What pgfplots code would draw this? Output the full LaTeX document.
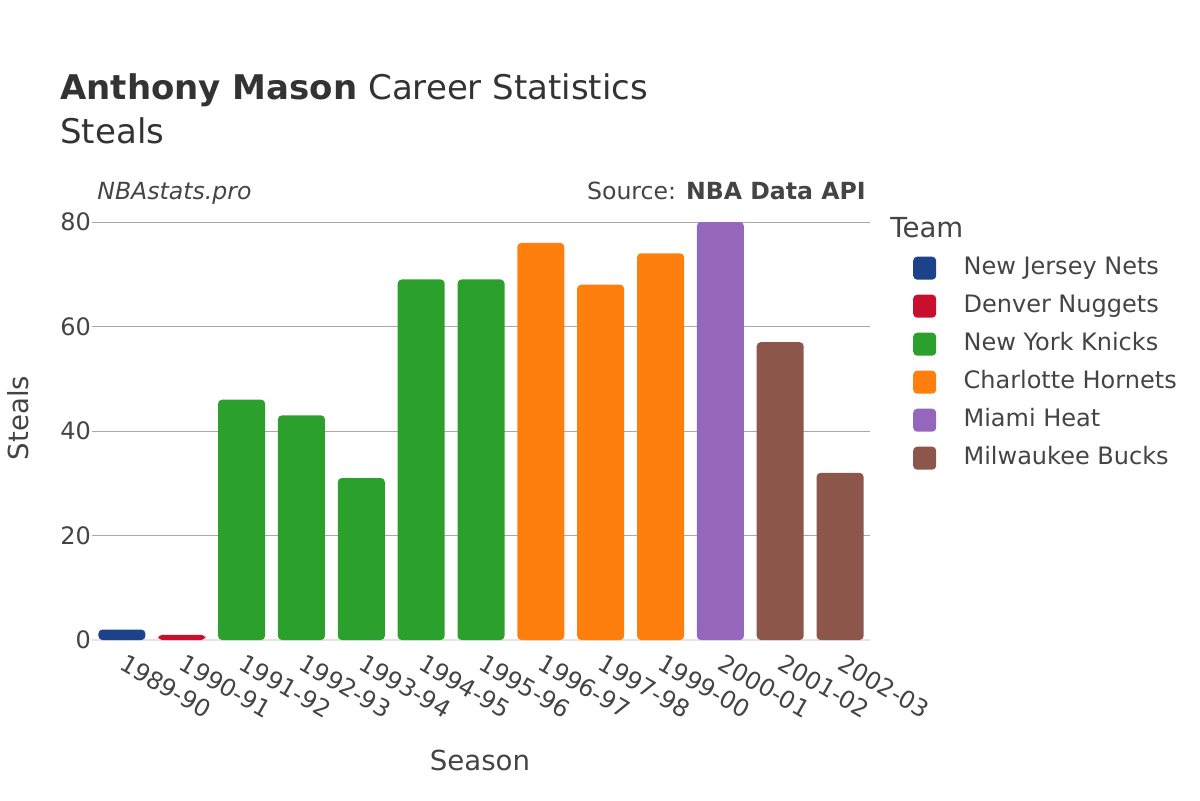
\documentclass[border=0pt]{standalone}
\usepackage{fontspec}
\setmainfont{DejaVu Sans}
\usepackage{pgfplots}
\pgfplotsset{compat=1.18}
\definecolor{txt}{HTML}{444444}
\definecolor{ttl}{HTML}{333333}
\definecolor{gridc}{HTML}{A8A8A8}
\definecolor{zeroc}{HTML}{E4E4E4}
\definecolor{nets}{HTML}{1D428A}
\definecolor{nuggets}{HTML}{C8102E}
\definecolor{knicks}{HTML}{2CA02C}
\definecolor{hornets}{HTML}{FF7F0E}
\definecolor{heat}{HTML}{9467BD}
\definecolor{bucks}{HTML}{8C564B}
\pgfplotsset{
  team bar/.style={ybar, bar width=23.5pt, bar shift=0pt, draw=none, fill=#1,
    rounded corners=2pt, forget plot},
}
\begin{document}
\begin{tikzpicture}
\path (0,0) rectangle (600pt,400pt);
\begin{axis}[
  at={(46pt,80pt)}, anchor=south west,
  scale only axis, width=389pt, height=209pt,
  xmin=-0.5, xmax=12.5, ymin=0, ymax=80,
  axis line style={draw=none},
  ytick={0,20,40,60,80},
  xtick={0,...,12},
  xticklabels={1989-90,1990-91,1991-92,1992-93,1993-94,1994-95,1995-96,1996-97,1997-98,1999-00,2000-01,2001-02,2002-03},
  xticklabel style={rotate=-30, anchor=north west, xshift=2pt, yshift=-1pt},
  yticklabel style={xshift=3pt},
  tick label style={font=\fontsize{12pt}{14pt}\selectfont, text=txt},
  /pgf/number format/assume math mode=true,
  major tick length=0pt,
  ymajorgrids, grid style={gridc, line width=0.5pt},
  extra y ticks={0}, extra y tick labels={},
  extra y tick style={grid style={zeroc, line width=1pt}},
  clip=false,
  legend image code/.code={\fill[#1, draw=none, rounded corners=2pt] (0pt,-5.75pt) rectangle (11.5pt,5.75pt); \path (25pt,0);},
  legend style={draw=none, fill=none, at={(1.055,0.918)}, anchor=north west,
    inner sep=0pt, row sep=7.5pt, font=\fontsize{12pt}{14pt}\selectfont, text=txt,
    nodes={inner sep=0pt, text height=9pt, text depth=2.5pt}},
  legend cell align=left,
]
\addplot[team bar=nets] coordinates {(0,2)};
\addplot[team bar=nuggets] coordinates {(1,1)};
\addplot[team bar=knicks] coordinates {(2,46) (3,43) (4,31) (5,69) (6,69)};
\addplot[team bar=hornets] coordinates {(7,76) (8,68) (9,74)};
\addplot[team bar=heat] coordinates {(10,80)};
\addplot[team bar=bucks] coordinates {(11,57) (12,32)};
\addlegendimage{fill=nets}\addlegendentry{New Jersey Nets}
\addlegendimage{fill=nuggets}\addlegendentry{Denver Nuggets}
\addlegendimage{fill=knicks}\addlegendentry{New York Knicks}
\addlegendimage{fill=hornets}\addlegendentry{Charlotte Hornets}
\addlegendimage{fill=heat}\addlegendentry{Miami Heat}
\addlegendimage{fill=bucks}\addlegendentry{Milwaukee Bucks}
\end{axis}
\node[anchor=base west, text=ttl, font=\fontsize{17pt}{20pt}\selectfont, inner sep=0pt] at (30pt,350pt) {\textbf{Anthony Mason} Career Statistics};
\node[anchor=base west, text=ttl, font=\fontsize{17pt}{20pt}\selectfont, inner sep=0pt] at (30pt,328pt) {Steals};
\node[anchor=base west, text=txt, font=\fontsize{11.8pt}{13pt}\selectfont\itshape, inner sep=0pt] at (48.5pt,300.5pt) {NBAstats.pro};
\node[anchor=base east, text=txt, font=\fontsize{11.8pt}{13pt}\selectfont, inner sep=0pt] at (433pt,300.5pt) {Source: \textbf{NBA Data API}};
\node[anchor=base west, text=txt, font=\fontsize{13.8pt}{16pt}\selectfont, inner sep=0pt] at (445pt,281.5pt) {Team};
\node[rotate=90, text=txt, font=\fontsize{13.8pt}{16pt}\selectfont, inner sep=0pt] at (9pt,191pt) {Steals};
\node[text=txt, font=\fontsize{13.8pt}{16pt}\selectfont, inner sep=0pt] at (240pt,20pt) {Season};
\end{tikzpicture}
\end{document}
